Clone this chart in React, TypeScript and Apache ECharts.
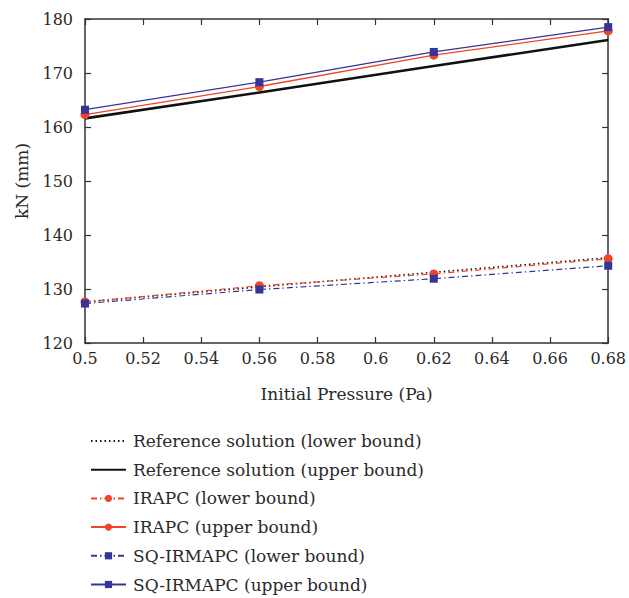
import React, { useEffect, useRef } from "react";
import * as echarts from "echarts";

const pressures = [0.5, 0.56, 0.62, 0.68];
const refLower = [127.6, 130.4, 133.1, 135.8];
const refUpper = [161.6, 166.4, 171.3, 176.1];
const irapcLower = [127.6, 130.6, 132.8, 135.6];
const irapcUpper = [162.3, 167.5, 173.3, 177.8];
const sqLower = [127.3, 129.9, 131.9, 134.3];
const sqUpper = [163.2, 168.3, 173.9, 178.5];
const seriesNames = [
  "Reference solution (lower bound)",
  "Reference solution (upper bound)",
  "IRAPC (lower bound)",
  "IRAPC (upper bound)",
  "SQ-IRMAPC (lower bound)",
  "SQ-IRMAPC (upper bound)",
];

const RED = "#ee4526";
const BLUE = "#34349a";
const FONT = "DejaVu Serif";
const TXT = "#2a2a2a";

const pairs = (ys: number[]) => pressures.map((x, i) => [x, ys[i]]);

export default function App() {
  const ref = useRef<HTMLDivElement>(null);
  useEffect(() => {
    const chart = echarts.init(ref.current!, null, { renderer: "svg" });
    const axisCommon = {
      axisLine: { show: true, onZero: false, lineStyle: { color: "#333", width: 1.5 } },
      axisTick: { show: true, inside: true, length: 6, lineStyle: { color: "#333", width: 1.2 } },
      splitLine: { show: false },
    };
    const mk = (
      name: string,
      data: number[],
      color: string,
      type: any,
      width: number,
      symbol: string,
      symbolSize: number
    ) => ({
      name,
      type: "line",
      data: pairs(data),
      symbol: symbol === "none" ? "circle" : symbol,
      symbolSize,
      showSymbol: symbol !== "none",
      itemStyle: { color: symbol === "none" ? "transparent" : color },
      lineStyle: { color, type, width },
      z: 3,
    });
    chart.setOption({
      animation: false,
      backgroundColor: "#fff",
      textStyle: { fontFamily: FONT },
      grid: { left: 85, right: 19, top: 19, bottom: 255, containLabel: false },
      xAxis: [
        {
          type: "value",
          min: 0.5,
          max: 0.68,
          interval: 0.02,
          name: "Initial Pressure (Pa)",
          nameLocation: "middle",
          nameGap: 42,
          nameTextStyle: { fontFamily: FONT, fontSize: 17, color: TXT },
          axisLabel: { fontFamily: FONT, fontSize: 16, color: TXT, margin: 7, formatter: (v: number) => String(Number(v.toFixed(2))) },
          ...axisCommon,
        },
        {
          type: "value",
          position: "top",
          min: 0.5,
          max: 0.68,
          interval: 0.02,
          axisLabel: { show: false },
          ...axisCommon,
        },
      ],
      yAxis: [
        {
          type: "value",
          min: 120,
          max: 180,
          interval: 10,
          name: "kN (mm)",
          nameLocation: "middle",
          nameGap: 55,
          nameTextStyle: { fontFamily: FONT, fontSize: 17, color: TXT },
          axisLabel: { fontFamily: FONT, fontSize: 16, color: TXT, margin: 12 },
          ...axisCommon,
        },
        {
          type: "value",
          position: "right",
          min: 120,
          max: 180,
          interval: 10,
          axisLabel: { show: false },
          ...axisCommon,
        },
      ],
      legend: {
        orient: "vertical",
        left: 85,
        top: 426,
        height: 172,
        itemWidth: 35,
        itemHeight: 9,
        itemGap: 8.7,
        data: seriesNames,
        textStyle: { fontFamily: FONT, fontSize: 17, color: TXT, lineHeight: 20, padding: [0, 0, 0, 2] },
      },
      series: [
        mk(seriesNames[0], refLower, "#111", [1.5, 3], 1.6, "none", 0),
        mk(seriesNames[1], refUpper, "#111", "solid", 2.6, "none", 0),
        mk(seriesNames[2], irapcLower, RED, [6, 3, 1.5, 3], 1.2, "circle", 9),
        mk(seriesNames[3], irapcUpper, RED, "solid", 1.3, "circle", 9),
        mk(seriesNames[4], sqLower, BLUE, [6, 3, 1.5, 3], 1.2, "rect", 8),
        mk(seriesNames[5], sqUpper, BLUE, "solid", 1.3, "rect", 8),
      ],
    });
    return () => chart.dispose();
  }, []);
  return <div ref={ref} style={{ width: 629, height: 598, position: "absolute", left: 0, top: 0 }} />;
}
